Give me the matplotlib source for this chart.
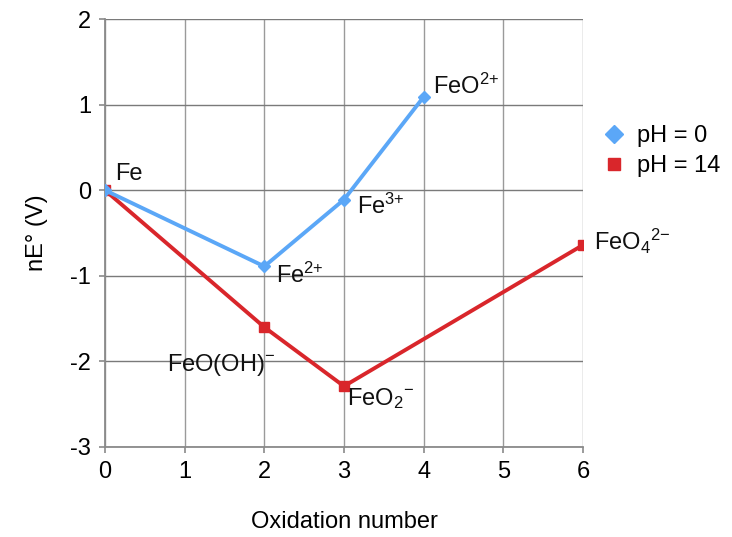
import matplotlib
matplotlib.use("Agg")
import matplotlib.pyplot as plt

plt.rcParams['font.family'] = ['Liberation Sans', 'DejaVu Sans']
plt.rcParams['mathtext.fontset'] = 'custom'
plt.rcParams['mathtext.rm'] = 'Liberation Sans'
plt.rcParams['mathtext.it'] = 'Liberation Sans'
plt.rcParams['mathtext.default'] = 'regular'
plt.rcParams['axes.unicode_minus'] = False

# Data
ox_ph0 = [0, 2, 3, 4]
ne_ph0 = [0.0, -0.89, -0.11, 1.09]
ox_ph14 = [0, 2, 3, 6]
ne_ph14 = [0.0, -1.60, -2.29, -0.64]
series_labels = ["pH = 0", "pH = 14"]
xticks = [0, 1, 2, 3, 4, 5, 6]
yticks = [-3, -2, -1, 0, 1, 2]

# species labels: (text, x, y)
species = [
    ("Fe", 0, 0.0),
    (r"Fe$^{2{+}}$", 2, -0.89),
    (r"Fe$^{3{+}}$", 3, -0.11),
    (r"FeO$^{2{+}}$", 4, 1.09),
    (r"FeO(OH)$^{{-}}$", 2, -1.60),
    (r"FeO$_{2}$$^{{-}}$", 3, -2.29),
    (r"FeO$_{4}$$^{2{-}}$", 6, -0.64),
]
offsets = [(7.2, 7.2), (8.6, -12.2), (9.4, -10.0), (6.5, 2.2), (-70, -31.7), (2.2, -13.7), (8, -3.6)]

FS = 17

fig = plt.figure(figsize=(7.32, 5.37), dpi=100)
ax = fig.add_axes([0.1434, 0.1676, 0.6530, 0.797])

blue = '#5ba7f7'
red = '#d9262b'
ax.plot(ox_ph14, ne_ph14, color=red, lw=2.8, marker='s', ms=7, label=series_labels[1], zorder=3)
ax.plot(ox_ph0, ne_ph0, color=blue, lw=2.8, marker='D', ms=6.5, label=series_labels[0], zorder=4)

for (t, x, y), (dx, dy) in zip(species, offsets):
    ax.annotate(t, (x, y), xytext=(dx, dy), textcoords='offset points',
                fontsize=FS, va='baseline', ha='left', color='#111111')

ax.set_xlim(0, 6)
ax.set_ylim(-3, 2)
ax.set_xticks(xticks)
ax.set_yticks(yticks)
ax.xaxis.grid(True, color='#9a9a9a', lw=1.0)
ax.yaxis.grid(True, color='#7a7a7a', lw=1.0)
ax.set_axisbelow(True)
for s in ['top', 'right']:
    ax.spines[s].set_visible(False)
for s in ['left', 'bottom']:
    ax.spines[s].set_color('#8a8a8a')
    ax.spines[s].set_linewidth(1.3)
ax.tick_params(axis='both', direction='out', length=4, width=1.2, color='#8a8a8a',
               labelsize=FS, pad=6)
ax.set_xlabel("Oxidation number", fontsize=FS, labelpad=20)
ax.set_ylabel("nE° (V)", fontsize=FS, labelpad=16)

h, l = ax.get_legend_handles_labels()
leg = fig.legend([h[1], h[0]], [l[1], l[0]], loc='center left',
                 bbox_to_anchor=(602 / 732, 1 - 151 / 537), bbox_transform=fig.transFigure,
                 frameon=False, fontsize=FS, handlelength=1.0, handletextpad=0.5,
                 labelspacing=0.35, borderpad=0, borderaxespad=0)
for lh in leg.legend_handles:
    lh.set_linestyle('none')
leg.legend_handles[0].set_markersize(9.5)
leg.legend_handles[1].set_markersize(8.5)

fig.savefig("out.png", dpi=100)
